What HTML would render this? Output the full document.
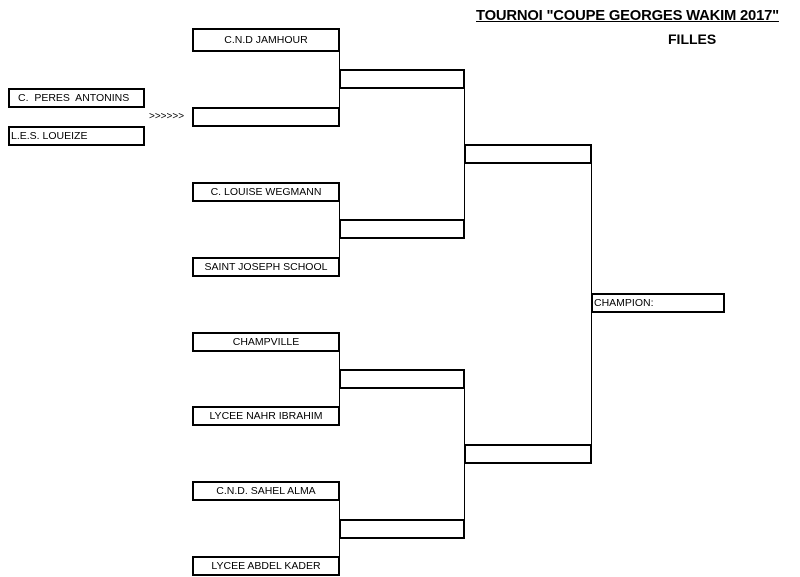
<!DOCTYPE html>
<html><head><meta charset="utf-8"><style>
body{margin:0;width:800px;height:577px;background:#fff;position:relative;overflow:hidden;font-family:"Liberation Sans",sans-serif;}
.b{position:absolute;border:2px solid #000;box-sizing:border-box;font-size:10.5px;line-height:17px;color:#000;white-space:nowrap;}
.c{text-align:center}
.v{position:absolute;width:1px;background:#000}
.t{position:absolute;font-weight:bold;font-size:14.8px;white-space:nowrap}
</style></head><body>
<div class="t" style="left:476px;top:8px;text-decoration:underline;letter-spacing:-0.2px">TOURNOI "COUPE GEORGES WAKIM 2017"</div>
<div class="t" style="left:668px;top:31px;font-size:14px">FILLES</div>

<div class="b" style="left:8px;top:88px;width:137px;height:20px;padding-left:8px">C.&nbsp; PERES&nbsp; ANTONINS</div>
<div class="b" style="left:8px;top:126px;width:137px;height:20px;padding-left:1px">L.E.S. LOUEIZE</div>
<div style="position:absolute;left:149px;top:111px;font-size:10px">&gt;&gt;&gt;&gt;&gt;&gt;</div>

<div class="b c" style="left:192px;top:28px;width:148px;height:24px;line-height:20px">C.N.D JAMHOUR</div>
<div class="b c" style="left:192px;top:107px;width:148px;height:20px"></div>
<div class="b c" style="left:192px;top:182px;width:148px;height:20px">C. LOUISE WEGMANN</div>
<div class="b c" style="left:192px;top:257px;width:148px;height:20px">SAINT JOSEPH SCHOOL</div>
<div class="b c" style="left:192px;top:332px;width:148px;height:20px">CHAMPVILLE</div>
<div class="b c" style="left:192px;top:406px;width:148px;height:20px">LYCEE NAHR IBRAHIM</div>
<div class="b c" style="left:192px;top:481px;width:148px;height:20px">C.N.D. SAHEL ALMA</div>
<div class="b c" style="left:192px;top:556px;width:148px;height:20px">LYCEE ABDEL KADER</div>

<div class="v" style="left:339px;top:51px;height:57px"></div>
<div class="v" style="left:339px;top:201px;height:57px"></div>
<div class="v" style="left:339px;top:351px;height:56px"></div>
<div class="v" style="left:339px;top:500px;height:57px"></div>

<div class="b" style="left:339px;top:69px;width:126px;height:20px"></div>
<div class="b" style="left:339px;top:219px;width:126px;height:20px"></div>
<div class="b" style="left:339px;top:369px;width:126px;height:20px"></div>
<div class="b" style="left:339px;top:519px;width:126px;height:20px"></div>

<div class="v" style="left:464px;top:88px;height:132px"></div>
<div class="v" style="left:464px;top:388px;height:132px"></div>

<div class="b" style="left:464px;top:144px;width:128px;height:20px"></div>
<div class="b" style="left:464px;top:444px;width:128px;height:20px"></div>

<div class="v" style="left:591px;top:163px;height:282px"></div>

<div class="b" style="left:591px;top:293px;width:134px;height:20px;padding-left:1px">CHAMPION:</div>
</body></html>
